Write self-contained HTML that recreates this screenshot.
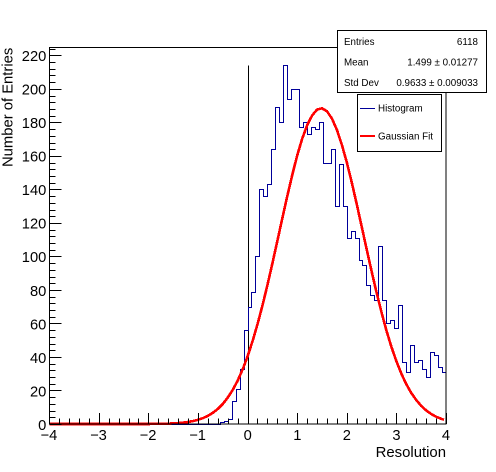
<!DOCTYPE html>
<html>
<head>
<meta charset="utf-8">
<title>Resolution histogram</title>
<style>
html,body{margin:0;padding:0;background:#fff;width:496px;height:472px;overflow:hidden}
svg{display:block}
text{font-family:"Liberation Sans",sans-serif;fill:#000}
</style>
</head>
<body>
<svg id="chart" width="496" height="472" viewBox="0 0 496 472" xmlns="http://www.w3.org/2000/svg">
  <rect x="0" y="0" width="496" height="472" fill="#fff"/>
  <g id="marks"></g>
  <g id="axes"></g>
  <text transform="translate(12.7,167) rotate(-90)" font-size="14.8">Number of Entries</text>
  <text x="446" y="457" text-anchor="end" font-size="14.9">Resolution</text>

  <g>
    <rect x="337.5" y="30.5" width="149" height="62" fill="#fff" stroke="#000" stroke-width="1" shape-rendering="crispEdges"/>
    <text x="344" y="45" font-size="9.8">Entries</text>
    <text x="478" y="45" font-size="9.8" text-anchor="end">6118</text>
    <text x="344" y="65.5" font-size="9.8">Mean</text>
    <text x="478" y="65.5" font-size="9.8" text-anchor="end">1.499 ± 0.01277</text>
    <text x="344" y="86" font-size="9.8">Std Dev</text>
    <text x="478" y="86" font-size="9.8" text-anchor="end">0.9633 ± 0.009033</text>
  </g>

  <g>
    <rect x="357.5" y="94.5" width="84" height="57" fill="#fff" stroke="#000" stroke-width="1" shape-rendering="crispEdges"/>
    <line x1="360" y1="108.5" x2="375" y2="108.5" stroke="#000099" stroke-width="1" shape-rendering="crispEdges"/>
    <text x="378" y="111.5" font-size="9.8">Histogram</text>
    <line x1="360" y1="136" x2="375" y2="136" stroke="#ff0000" stroke-width="2" shape-rendering="crispEdges"/>
    <text x="378" y="139.5" font-size="9.8">Gaussian Fit</text>
  </g>
</svg>
<script>
// Histogram: 100 bins spanning -4 to 4; the counts below start at binStart.
const binStart = -0.56;
const binWidth = 0.08;
const histogramCounts = [
  1, 2, 3, 14, 21, 33, 56,
  70, 79, 100, 140, 136, 143, 164, 189, 180, 214,
  194, 200, 200, 177, 180, 173, 177, 176, 180, 156,
  156, 164, 130, 155, 130, 111, 115, 111, 98, 95,
  83, 77, 74, 106, 74, 60, 62, 57, 71, 37,
  31, 47, 37, 38, 33, 28, 43, 41, 34, 31
];
// Gaussian fit curve.
const fitX = [-4, -3, -2.5, -2, -1.8, -1.6, -1.5, -1.4, -1.3, -1.2, -1.1, -1, -0.9, -0.8, -0.7, -0.6, -0.5, -0.4, -0.3, -0.2, -0.1, 0, 0.1, 0.2, 0.3, 0.4, 0.5, 0.6, 0.7, 0.8, 0.9, 1, 1.1, 1.2, 1.3, 1.4, 1.5, 1.6, 1.7, 1.8, 1.9, 2, 2.1, 2.2, 2.3, 2.4, 2.5, 2.6, 2.7, 2.8, 2.9, 3, 3.1, 3.2, 3.3, 3.4, 3.5, 3.6, 3.7, 3.8, 3.9, 3.96];
const fitY = [0, 0, 0, 0.02, 0.08, 0.22, 0.38, 0.57, 0.84, 1.23, 1.78, 2.54, 3.57, 4.95, 6.76, 9.11, 12.1, 15.9, 20.5, 26.1, 32.8, 40.7, 49.7, 59.9, 71.1, 83.3, 96.2, 109.6, 123.1, 136.3, 148.9, 160.5, 170.4, 178.4, 184.2, 187.7, 188.4, 186.6, 182.2, 175.5, 166.5, 156, 144, 131.1, 117.7, 104.2, 91, 78.3, 66.5, 55.6, 45.9, 37.4, 30, 23.7, 18.5, 14.3, 10.8, 8.1, 6, 4.35, 3.12, 2.5];
// Vertical reference line at zero.
const markerX = [0];
const markerTop = [214];
// Axis ticks.
const xTickLabels = [-4, -3, -2, -1, 0, 1, 2, 3, 4];
const yTickLabels = [0, 20, 40, 60, 80, 100, 120, 140, 160, 180, 200, 220];
const xMinorDivisions = 5;
const yMinorDivisions = 5;
const xDomain = [-4, 4];
const yDomain = [0, 225];

const NS = 'http://www.w3.org/2000/svg';
const plot = { left: 49.5, right: 446, bottom: 424, top: 47 };
function sx(v) { return plot.left + (v - xDomain[0]) / (xDomain[1] - xDomain[0]) * (plot.right - plot.left); }
function sy(v) { return plot.bottom - (v - yDomain[0]) / (yDomain[1] - yDomain[0]) * (plot.bottom - plot.top); }
function snapX(v) { return Math.round(sx(v) - 0.25) + 0.5; }
function make(tag, parent) {
  const el = document.createElementNS(NS, tag);
  parent.appendChild(el);
  return el;
}
const marks = document.getElementById('marks');
const axes = document.getElementById('axes');

// Reference line
const zeroLine = make('line', marks);


zeroLine.setAttribute('x1', snapX(markerX[0]));
zeroLine.setAttribute('x2', snapX(markerX[0]));
zeroLine.setAttribute('y1', sy(markerTop[0]));
zeroLine.setAttribute('y2', sy(0));
zeroLine.setAttribute('stroke', '#000');
zeroLine.setAttribute('stroke-width', '1');
zeroLine.setAttribute('shape-rendering', 'crispEdges');

// Histogram outline
let histPts = [[snapX(xDomain[0]), sy(0)], [snapX(binStart), sy(0)]];
histogramCounts.forEach(function (c, i) {
  histPts.push([snapX(binStart + i * binWidth), sy(c)]);
  histPts.push([snapX(binStart + (i + 1) * binWidth), sy(c)]);
});
const hist = make('polyline', marks);


hist.setAttribute('points', histPts.map(function (p) { return p[0] + ',' + (Math.round(p[1]) + 0.5); }).join(' '));
hist.setAttribute('fill', 'none');
hist.setAttribute('stroke', '#000099');
hist.setAttribute('stroke-width', '1');
hist.setAttribute('shape-rendering', 'crispEdges');

// Gaussian fit
const fit = make('polyline', marks);


fit.setAttribute('points', fitX.map(function (x, i) { return sx(x).toFixed(2) + ',' + sy(fitY[i]).toFixed(2); }).join(' '));
fit.setAttribute('fill', 'none');
fit.setAttribute('stroke', '#ff0000');
fit.setAttribute('stroke-width', '2.6');
fit.setAttribute('stroke-linejoin', 'round');
fit.setAttribute('shape-rendering', 'crispEdges');

// Frame
const frame = make('rect', axes);


frame.setAttribute('x', '49.5');
frame.setAttribute('y', '47.5');
frame.setAttribute('width', '396.5');
frame.setAttribute('height', '376.5');
frame.setAttribute('fill', 'none');
frame.setAttribute('stroke', '#000');
frame.setAttribute('stroke-width', '1');
frame.setAttribute('shape-rendering', 'crispEdges');

function tickLine(x1, y1, x2, y2, name) {
  const t = make('line', axes);
  
  
  t.setAttribute('x1', x1);
  t.setAttribute('y1', y1);
  t.setAttribute('x2', x2);
  t.setAttribute('y2', y2);
  t.setAttribute('stroke', '#000');
  t.setAttribute('stroke-width', '1');
  t.setAttribute('shape-rendering', 'crispEdges');
}

// X ticks and labels
const xStep = xTickLabels[1] - xTickLabels[0];
xTickLabels.forEach(function (v, i) {
  const px = snapX(v);
  tickLine(px, plot.bottom, px, plot.bottom - 11, 'x-major-tick');
  if (i < xTickLabels.length - 1) {
    for (let m = 1; m < xMinorDivisions; m++) {
      const mx = snapX(v + m * xStep / xMinorDivisions);
      tickLine(mx, plot.bottom, mx, plot.bottom - 5.5, 'x-minor-tick');
    }
  }
  const label = make('text', axes);
  
  
  label.setAttribute('x', sx(v) - (v < 0 ? 0.6 : 0));
  label.setAttribute('y', '440');
  label.setAttribute('text-anchor', 'middle');
  label.setAttribute('font-size', '14.7');
  label.textContent = String(v).replace('-', '\u2212');
});

// Y ticks and labels
const yStep = yTickLabels[1] - yTickLabels[0];
yTickLabels.forEach(function (v) {
  const py = Math.round(sy(v)) + 0.5;
  tickLine(plot.left, py, plot.left + 12, py, 'y-major-tick');
  for (let m = 1; m < yMinorDivisions; m++) {
    const val = v + m * yStep / yMinorDivisions;
    if (val <= yDomain[1]) {
      const my = Math.round(sy(val)) + 0.5;
      tickLine(plot.left, my, plot.left + 6, my, 'y-minor-tick');
    }
  }
  const label = make('text', axes);
  
  
  label.setAttribute('x', '46.3');
  label.setAttribute('y', sy(v) + 5.8);
  label.setAttribute('text-anchor', 'end');
  label.setAttribute('font-size', '14.7');
  label.textContent = String(v);
});
</script>
</body>
</html>
